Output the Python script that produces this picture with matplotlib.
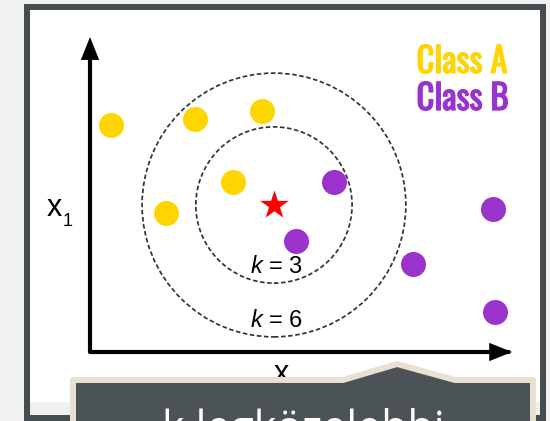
"""
k-NN illustration (Class A / Class B, k = 3 and k = 6) inside a framed page snippet.
"""
import matplotlib as mpl, matplotlib.pyplot as plt
import matplotlib.patheffects as pe
from matplotlib.patches import Circle, Rectangle, Polygon

mpl.rcParams.update({"font.family": ["Liberation Sans", "DejaVu Sans"],
    "mathtext.fontset": "custom", "mathtext.it": "Liberation Sans:italic",
    "mathtext.rm": "Liberation Sans"})

# ====== Data (feature space units) ======
class_a_x = [0.5, 2.5, 4.1, 3.4, 1.8]
class_a_y = [5.4, 5.55, 5.75, 4.05, 3.3]
class_b_x = [5.8, 4.9, 7.7, 9.6, 9.65]
class_b_y = [4.05, 2.65, 2.1, 3.4, 0.95]
query_x, query_y = 4.38, 3.5
k_values = [3, 6]
k_radii = [1.86, 3.14]
class_names = ["Class A", "Class B"]
class_colors = ["#ffd500", "#9933cc"]
tooltip_text = "k legközelebbi"

W, H = 550, 421
fig = plt.figure(figsize=(W/100, H/100), dpi=100)
fig.patch.set_facecolor("#f1f1f1")

# ---- background frame (pixel coords) ----
bg = fig.add_axes([0, 0, 1, 1], zorder=0)
bg.set_xlim(0, W); bg.set_ylim(H, 0); bg.axis("off")
bg.add_patch(Rectangle((24, 4), 522, 430, fc="#454d50", ec="none"))
bg.add_patch(Rectangle((30, 10), 510, 392, fc="white", ec="none"))
bg.add_patch(Rectangle((30, 402), 510, 13, fc="#f0f0f0", ec="none"))
bg.text(47, 216, "x", fontsize=22, va="baseline", ha="left", color="black")
bg.text(63, 226, "1", fontsize=13, va="baseline", ha="left", color="black")
for i, yb in enumerate([73, 110]):
    bg.text(416.5, yb, class_names[i], fontsize=25, color=class_colors[i],
            family=["Oswald", "Fjalla One", "DejaVu Sans"], va="baseline", ha="left",
            path_effects=[pe.withStroke(linewidth=0.9, foreground=class_colors[i])])
bg.text(281, 382, "x", fontsize=22, va="baseline", ha="center", color="black")

# ---- feature space axes: 42 px per unit, origin at pixel (90, 352) ----
ax = fig.add_axes([70/W, (H-370)/H, 460/W, 350/H], zorder=1)
ax.set_xlim(-20/42, 440/42); ax.set_ylim(-18/42, 332/42)
ax.axis("off"); ax.patch.set_alpha(0)

ax.plot([0, 0, 10.0], [7.2, 0, 0], color="black", lw=3, solid_joinstyle="round",
        solid_capstyle="butt")
for tip, tail in [((0, 7.5), (0, 7.0)), ((10.05, 0), (9.55, 0))]:
    ax.annotate("", xy=tip, xytext=tail,
                arrowprops=dict(arrowstyle="-|>,head_length=0.55,head_width=0.22",
                                mutation_scale=30, lw=0, fc="black", ec="black",
                                shrinkA=0, shrinkB=0))

for r in k_radii:
    ax.add_patch(Circle((query_x, query_y), r, fill=False, ec="#333333", lw=1.25,
                        ls=(0, (2.6, 1.5))))
ax.text(query_x + 0.07, 2.02, f"$k$ = {k_values[0]}", fontsize=17, ha="center", va="center")
ax.text(query_x + 0.07, 0.74, f"$k$ = {k_values[1]}", fontsize=17, ha="center", va="center")

ax.scatter(class_a_x, class_a_y, s=324, color=class_colors[0], linewidth=0, zorder=3)
ax.scatter(class_b_x, class_b_y, s=324, color=class_colors[1], linewidth=0, zorder=3)
ax.scatter([query_x], [query_y], marker="*", s=470, color="#ff0000", linewidth=0, zorder=4)

# ---- tooltip overlay ----
top = fig.add_axes([0, 0, 1, 1], zorder=2)
top.set_xlim(0, W); top.set_ylim(H, 0); top.axis("off"); top.patch.set_alpha(0)
top.add_patch(Polygon([(73, 380), (343, 380), (397, 364), (455, 380), (533, 380),
                       (533, 440), (73, 440)], closed=True, fc="#4b5356", ec="#e8e1cf",
                      lw=4.3, joinstyle="round"))
top.text(303, 442, tooltip_text, fontsize=31, color="white", ha="center", va="baseline",
         family=["Open Sans", "DejaVu Sans"])

fig.savefig("out.png", dpi=100, facecolor=fig.get_facecolor())
